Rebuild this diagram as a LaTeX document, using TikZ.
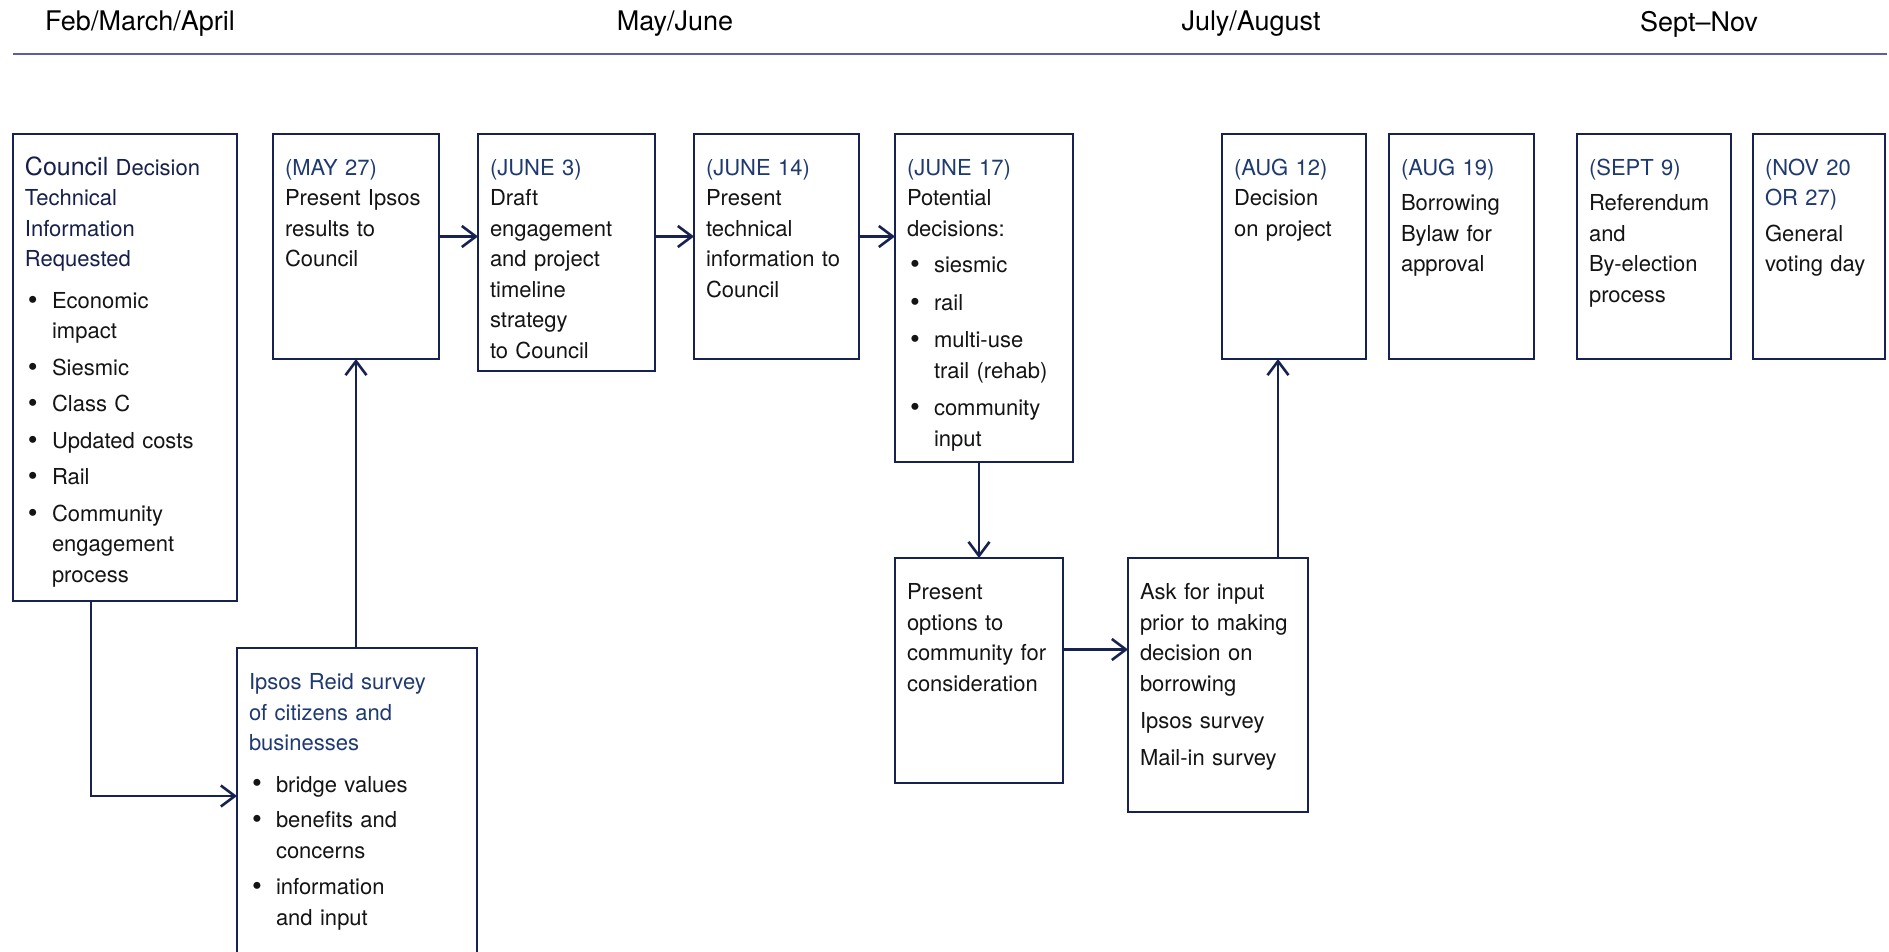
\documentclass[tikz,border=0pt]{standalone}
\usepackage{fontspec}
\setmainfont{TeX Gyre Heros}
\usepackage{tikz}
\usetikzlibrary{arrows.meta,positioning}
\usepackage{xcolor}

\definecolor{boxline}{HTML}{182250}
\definecolor{datecol}{HTML}{1F3A70}
\definecolor{headcol}{HTML}{16204A}
\definecolor{rulecol}{HTML}{5C5DA8}
\definecolor{bodytext}{HTML}{141414}

\newcommand{\bul}{\hspace*{1.5pt}\makebox[12pt][l]{\raisebox{-0.3pt}{\fontsize{14pt}{0pt}\selectfont\textbullet}}}
\newcommand{\ind}{\hspace*{13.5pt}}
\newcommand{\dt}[1]{\textcolor{datecol}{#1}}

\begin{document}
\begin{tikzpicture}[
    x=0.5pt, y=-0.5pt,
    stage/.style={rectangle, draw=boxline, line width=1.25pt, fill=white, outer sep=0pt,
        anchor=north west, align=left, inner xsep=6pt, inner ysep=0pt,
        text height=20.75pt, text width=#1, text=bodytext,
        font=\fontsize{11pt}{15.25pt}\selectfont},
    month/.style={font=\fontsize{13.5pt}{16pt}\selectfont, text=black},
    arrow/.style={-{Straight Barb[length=7pt,width=10.5pt]}, line width=1.3pt, draw=boxline}
]
\useasboundingbox (0,0) rectangle (1889,952);
\clip (0,0) rectangle (1889,952);

% months
\node[month] (feb) at (140,24) {Feb/March/April};
\node[month] (may) at (675,24) {May/June};
\node[month] (jul) at (1251,24) {July/August};
\node[month] (sep) at (1699,24) {Sept--Nov};
\draw[rulecol, line width=1.2pt] (13,54) -- (1887,54);

% top row
\node[stage=100pt, text depth=212.75pt] (council) at (13,134)
    {\color{headcol}{\fontsize{12.5pt}{15.25pt}\selectfont Council} Decision\\ Technical\\ Information\\ Requested\\[5.5pt]
     \color{bodytext}\bul Economic\\ \ind impact\\[3pt] \bul Siesmic\\[3pt] \bul Class C\\[3pt]
     \bul Updated costs\\[3pt] \bul Rail\\[3pt] \bul Community\\ \ind engagement\\ \ind process};
\node[stage=71pt, text depth=91.75pt, right=18pt of council.north east, anchor=north west] (may27)
    {\dt{(MAY 27)}\\ Present Ipsos\\ results to\\ Council};
\node[stage=76.5pt, text depth=97.75pt, right=19.5pt of may27.north east, anchor=north west] (june3)
    {\dt{(JUNE 3)}\\ Draft\\ engagement\\ and project\\ timeline\\ strategy\\ to Council};
\node[stage=70.5pt, text depth=91.75pt, right=19.5pt of june3.north east, anchor=north west] (june14)
    {\dt{(JUNE 14)}\\ Present\\ technical\\ information to\\ Council};
\node[stage=77pt, text depth=143.25pt, right=18pt of june14.north east, anchor=north west] (june17)
    {\dt{(JUNE 17)}\\ Potential\\ decisions:\\[3pt] \bul siesmic\\[3.5pt] \bul rail\\[3.5pt]
     \bul multi-use\\ \ind trail (rehab)\\[3.5pt] \bul community\\ \ind input};
\node[stage=60pt, text depth=91.75pt, right=74.5pt of june17.north east, anchor=north west] (aug12)
    {\dt{(AUG 12)}\\ Decision\\ on project};
\node[stage=60.5pt, text depth=91.75pt, right=11.5pt of aug12.north east, anchor=north west] (aug19)
    {\dt{(AUG 19)}\\[2.5pt] Borrowing\\ Bylaw for\\ approval};
\node[stage=65pt, text depth=91.75pt, right=21.5pt of aug19.north east, anchor=north west] (sept9)
    {\dt{(SEPT 9)}\\[2.5pt] Referendum\\ and\\ By-election\\ process};
\node[stage=54pt, text depth=91.75pt, right=11pt of sept9.north east, anchor=north west] (nov20)
    {\dt{(NOV 20}\\ \dt{OR 27)}\\[2.5pt] General\\ voting day};

% lower row
\node[stage=108pt, text depth=179.25pt, below=23.5pt of council.south east, anchor=north west] (ipsos)
    {\color{datecol}Ipsos Reid survey\\ of citizens and\\ businesses\\[5.5pt]
     \color{bodytext}\bul bridge values\\[2.5pt] \bul benefits and\\ \ind concerns\\[3pt]
     \bul information\\ \ind and input};
\node[stage=72pt, text depth=91.75pt, below=48pt of june17.south west, anchor=north west] (opts)
    {Present\\ options to\\ community for\\ consideration};
\node[stage=78pt, text depth=106.25pt, right=32.5pt of opts.north east, anchor=north west] (ask)
    {Ask for input\\ prior to making\\ decision on\\ borrowing\\[3.3pt] Ipsos survey\\[3.3pt] Mail-in survey};

% connectors
\coordinate (cdown) at ([xshift=-17pt]council.south);
\coordinate (ipsin) at ([yshift=-74pt]ipsos.north west);
\coordinate (rowarr) at ([yshift=5pt]may27.east);
\coordinate (optsout) at ([yshift=10.5pt]opts.east);
\coordinate (askup) at ([xshift=30pt]ask.north);

\draw[arrow] (cdown) |- (ipsin);
\draw[arrow] (ipsos.north -| may27.south) -- (may27.south);
\draw[arrow] (rowarr) -- (rowarr -| june3.west);
\draw[arrow] (rowarr -| june3.east) -- (rowarr -| june14.west);
\draw[arrow] (rowarr -| june14.east) -- (rowarr -| june17.west);
\draw[arrow] (june17.south -| opts.north) -- (opts.north);
\draw[arrow] (optsout) -- (optsout -| ask.west);
\draw[arrow] (askup) -- (askup |- aug12.south);
\end{tikzpicture}
\end{document}
